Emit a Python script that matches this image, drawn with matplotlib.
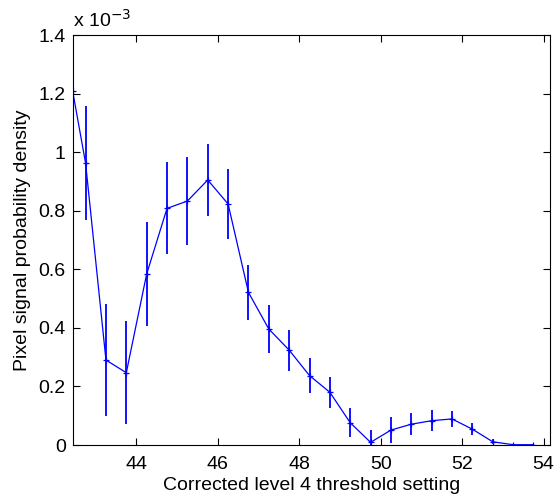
import numpy as np
import matplotlib.pyplot as plt

plt.rcParams['font.family'] = ['Liberation Sans', 'DejaVu Sans']

# threshold setting and density (in units of 1e-3)
threshold = [42.43, 42.75, 43.25, 43.75, 44.25, 44.75, 45.25, 45.75, 46.25, 46.75,
             47.25, 47.75, 48.25, 48.75, 49.25, 49.75, 50.25, 50.75, 51.25, 51.75,
             52.25, 52.75, 53.25, 53.75]
density = [1.21, 0.962, 0.290, 0.247, 0.584, 0.808, 0.833, 0.905, 0.823, 0.521,
           0.396, 0.324, 0.237, 0.180, 0.076, 0.009, 0.051, 0.071, 0.083, 0.089,
           0.054, 0.011, 0.001, 0.001]
err = [0.0, 0.195, 0.190, 0.175, 0.176, 0.157, 0.149, 0.124, 0.118, 0.093,
       0.083, 0.070, 0.061, 0.052, 0.049, 0.042, 0.045, 0.038, 0.035, 0.026,
       0.020, 0.008, 0.003, 0.003]

fig = plt.figure(figsize=(5.54, 5.0), dpi=100)
ax = fig.add_axes([0.131, 0.11, 0.862, 0.82])

ax.errorbar(threshold, density, yerr=err, fmt='none', ecolor='blue',
            elinewidth=1.3, capsize=0)
ax.plot(threshold, density, color='blue', lw=0.9, marker='+', ms=4, mew=0.9)

ax.set_xlim(42.43, 54.16)
ax.set_ylim(0, 1.4)
ax.set_xticks([44, 46, 48, 50, 52, 54])
ax.set_yticks(np.arange(0, 1.41, 0.2))
ax.set_yticklabels(['0', '0.2', '0.4', '0.6', '0.8', '1', '1.2', '1.4'])
ax.tick_params(direction='in', top=True, right=True, length=5, labelsize=14, pad=5)
ax.tick_params(axis='x', pad=8)
for s in ax.spines.values():
    s.set_linewidth(0.8)

ax.set_xlabel('Corrected level 4 threshold setting', fontsize=14, labelpad=3)
ax.set_ylabel('Pixel signal probability density', fontsize=14, labelpad=5)
ax.text(0.0, 1.01, r'x 10$^{-3}$', transform=ax.transAxes, fontsize=14,
        ha='left', va='bottom')

fig.savefig('out.png', dpi=100)
